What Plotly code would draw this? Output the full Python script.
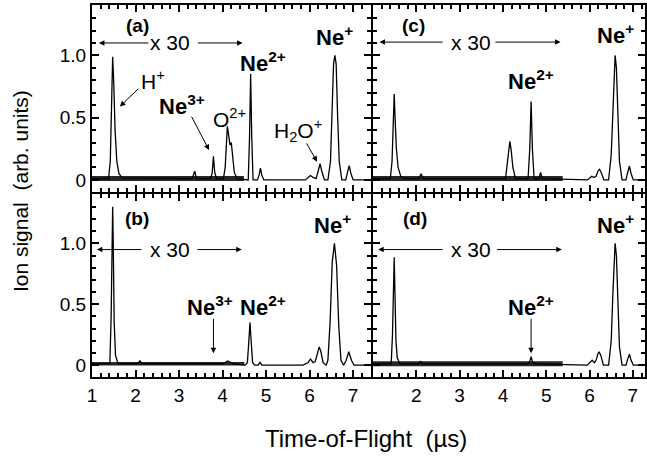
import plotly.graph_objects as go

# ---------------- data ----------------
# Time-of-flight (µs) and normalised ion signal, panel (a)
t_a = [1.00, 1.38, 1.42, 1.45, 1.475, 1.50, 1.53, 1.57, 1.62, 1.70, 3.30, 3.36, 3.40,
       3.72, 3.76, 3.79, 3.82, 3.86, 4.02, 4.06, 4.09, 4.11, 4.14, 4.17, 4.20, 4.23,
       4.27, 4.33, 4.55, 4.59, 4.62, 4.645, 4.67, 4.70, 4.80, 4.84, 4.87, 4.90, 4.95,
       5.90, 6.02, 6.08, 6.15, 6.20, 6.24, 6.28, 6.34, 6.42, 6.48, 6.52, 6.55, 6.58,
       6.61, 6.64, 6.68, 6.74, 6.83, 6.87, 6.91, 6.95, 7.00, 7.41]
s_a = [0.01, 0.01, 0.15, 0.60, 0.99, 0.78, 0.40, 0.15, 0.05, 0.015, 0.01, 0.07, 0.01,
       0.01, 0.05, 0.19, 0.06, 0.01, 0.01, 0.10, 0.33, 0.43, 0.36, 0.28, 0.30, 0.18,
       0.06, 0.01, 0.0, 0.0, 0.35, 0.85, 0.35, 0.0, 0.0, 0.04, 0.095, 0.04, 0.0,
       0.0, 0.035, 0.02, 0.01, 0.07, 0.13, 0.07, 0.0, 0.0, 0.15, 0.60, 0.93, 1.0,
       0.93, 0.55, 0.15, 0.0, 0.0, 0.06, 0.115, 0.05, 0.0, 0.0]

# panel (b)
t_b = [1.00, 1.41, 1.44, 1.46, 1.475, 1.49, 1.51, 1.54, 1.60, 2.05, 2.10, 2.15, 4.00,
       4.12, 4.25, 4.52, 4.57, 4.60, 4.63, 4.66, 4.69, 4.74, 4.82, 4.86, 4.90, 5.85,
       5.96, 6.02, 6.08, 6.13, 6.18, 6.22, 6.26, 6.31, 6.38, 6.42, 6.47, 6.52, 6.57,
       6.62, 6.67, 6.72, 6.78, 6.84, 6.90, 6.96, 7.02, 7.41]
s_b = [0.01, 0.01, 0.40, 1.05, 1.30, 0.95, 0.35, 0.08, 0.01, 0.01, 0.035, 0.01, 0.01,
       0.035, 0.01, 0.0, 0.02, 0.18, 0.35, 0.18, 0.02, 0.0, 0.0, 0.025, 0.0, 0.0,
       0.02, 0.05, 0.02, 0.03, 0.11, 0.15, 0.11, 0.02, 0.0, 0.04, 0.35, 0.85, 1.0,
       0.82, 0.32, 0.04, 0.0, 0.04, 0.11, 0.04, 0.0, 0.0]

# panel (c)
t_c = [1.00, 1.40, 1.44, 1.47, 1.49, 1.51, 1.54, 1.58, 1.64, 1.72, 2.06, 2.11, 2.16,
       4.06, 4.10, 4.13, 4.16, 4.19, 4.23, 4.29, 4.58, 4.62, 4.65, 4.68, 4.72, 4.83,
       4.87, 4.91, 5.95, 6.05, 6.10, 6.15, 6.20, 6.23, 6.27, 6.33, 6.44, 6.50, 6.54,
       6.57, 6.59, 6.62, 6.65, 6.69, 6.75, 6.84, 6.88, 6.92, 6.96, 7.01, 7.28]
s_c = [0.01, 0.01, 0.15, 0.45, 0.69, 0.50, 0.25, 0.10, 0.03, 0.01, 0.01, 0.05, 0.01,
       0.01, 0.12, 0.25, 0.31, 0.24, 0.10, 0.01, 0.01, 0.25, 0.63, 0.25, 0.01, 0.01,
       0.06, 0.01, 0.0, 0.03, 0.02, 0.03, 0.075, 0.085, 0.06, 0.0, 0.0, 0.2, 0.6,
       0.92, 1.0, 0.9, 0.55, 0.15, 0.0, 0.0, 0.06, 0.11, 0.05, 0.0, 0.0]

# panel (d)
t_d = [1.00, 1.42, 1.45, 1.47, 1.49, 1.51, 1.53, 1.56, 1.62, 2.05, 2.10, 2.15, 4.58,
       4.62, 4.65, 4.68, 4.72, 5.95, 6.06, 6.11, 6.15, 6.19, 6.22, 6.26, 6.32, 6.44,
       6.50, 6.54, 6.57, 6.59, 6.62, 6.65, 6.69, 6.75, 6.84, 6.88, 6.92, 6.96, 7.01,
       7.28]
s_d = [0.01, 0.01, 0.25, 0.65, 0.886, 0.55, 0.20, 0.06, 0.01, 0.01, 0.03, 0.01, 0.01,
       0.03, 0.07, 0.03, 0.01, 0.0, 0.04, 0.02, 0.04, 0.09, 0.11, 0.08, 0.0, 0.0,
       0.2, 0.6, 0.92, 1.0, 0.9, 0.55, 0.15, 0.0, 0.0, 0.05, 0.09, 0.04, 0.0, 0.0]

# extent of the noisy (x30 magnified) baseline region in each panel
noise_t_a = [1.0, 4.49]
noise_t_b = [1.0, 4.50]
noise_t_c = [1.0, 5.38]
noise_t_d = [1.0, 5.38]
noise_level = [0.012, 0.012]

# axis ticks
x_ticks_left = [1, 2, 3, 4, 5, 6, 7]
x_ticks_right = [2, 3, 4, 5, 6, 7]
y_ticks = [0, 0.5, 1.0]
y_tick_text = ["0", "0.5", "1.0"]

XR_LEFT = [1.0, 7.41]
XR_RIGHT = [1.0, 7.28]
YR = [-0.097, 1.405]

# ---------------- figure ----------------
FONT = "Liberation Sans, Arial, Helvetica, sans-serif"
fig = go.Figure()

panels = [
    ("x", "y", t_a, s_a, noise_t_a, 5),
    ("x2", "y2", t_c, s_c, noise_t_c, 5),
    ("x3", "y3", t_b, s_b, noise_t_b, 3.5),
    ("x4", "y4", t_d, s_d, noise_t_d, 5),
]
for xa, ya, t, s, nt, nw in panels:
    fig.add_trace(go.Scatter(x=nt, y=noise_level, mode="lines", xaxis=xa, yaxis=ya,
                             line=dict(color="#262626", width=nw), showlegend=False,
                             hoverinfo="skip"))
    fig.add_trace(go.Scatter(x=t, y=s, mode="lines", xaxis=xa, yaxis=ya,
                             line=dict(color="black", width=1.3), showlegend=False))

LW = 2
xl_dom = [0, 0.5045]
xr_dom = [0.5045 + LW / 553, 1]
yt_dom = [0.4973, 1]
yb_dom = [0, 0.4973 - LW / 372]


def xaxis(dom, rng, anchor, labels, vals):
    return dict(domain=dom, range=rng, anchor=anchor, showline=True, linecolor="black",
                linewidth=LW, mirror="allticks", ticks="inside", ticklen=7,
                tickwidth=2, tickcolor="black", tickmode="array", tickvals=vals,
                showticklabels=labels, showgrid=False, zeroline=False,
                tickfont=dict(family=FONT, size=19, color="black"),
                minor=dict(tick0=0, dtick=0.2, ticks="inside", ticklen=4,
                           tickwidth=1.5, tickcolor="black", showgrid=False))


def yaxis(dom, anchor, labels):
    return dict(domain=dom, range=YR, anchor=anchor, showline=True, linecolor="black",
                linewidth=LW, mirror="allticks", ticks="inside", ticklen=7,
                tickwidth=2, tickcolor="black", tickmode="array", tickvals=y_ticks,
                ticktext=y_tick_text, showticklabels=labels, showgrid=False,
                zeroline=False, tickfont=dict(family=FONT, size=19, color="black"),
                minor=dict(tick0=0, dtick=0.1, ticks="inside", ticklen=4,
                           tickwidth=1.5, tickcolor="black", showgrid=False))


fig.update_layout(
    template="none",
    xaxis=xaxis(xl_dom, XR_LEFT, "y", False, x_ticks_left),
    yaxis=yaxis(yt_dom, "x", True),
    xaxis2=xaxis(xr_dom, XR_RIGHT, "y2", False, x_ticks_right),
    yaxis2=yaxis(yt_dom, "x2", False),
    xaxis3=xaxis(xl_dom, XR_LEFT, "y3", True, x_ticks_left),
    yaxis3=yaxis(yb_dom, "x3", True),
    xaxis4=xaxis(xr_dom, XR_RIGHT, "y4", True, x_ticks_right),
    yaxis4=yaxis(yb_dom, "x4", False),
)

ann = []


def text(xr, yr, x, y, s, size=21, bold=False):
    if bold:
        s = "<b>" + s + "</b>"
    ann.append(dict(xref=xr, yref=yr, x=x, y=y, text=s, showarrow=False,
                    font=dict(family=FONT, size=size, color="black"),
                    xanchor="center", yanchor="middle"))


def arrow(xr, yr, x0, y0, x1, y1):
    # tail (x0, y0) -> head (x1, y1)
    ann.append(dict(xref=xr, yref=yr, axref=xr, ayref=yr, x=x1, y=y1, ax=x0, ay=y0,
                    text="", showarrow=True, arrowhead=2, arrowsize=1.1,
                    arrowwidth=1, arrowcolor="black", standoff=0, startstandoff=0))


B = 22  # bold ion labels
N = 21  # normal labels

# panel (a)
text("x", "y", 2.04, 1.24, "(a)", 19, True)
text("x", "y", 2.79, 1.10, "x 30", N)
arrow("x", "y", 2.33, 1.10, 1.16, 1.10)
arrow("x", "y", 3.40, 1.10, 4.46, 1.10)
text("x", "y", 6.58, 1.16, "Ne<sup>+</sup>", B, True)
text("x", "y", 4.93, 0.944, "Ne<sup>2+</sup>", B, True)
text("x", "y", 2.40, 0.80, "H<sup>+</sup>", N)
arrow("x", "y", 2.10, 0.744, 1.64, 0.59)
text("x", "y", 3.06, 0.60, "Ne<sup>3+</sup>", B, True)
arrow("x", "y", 3.27, 0.52, 3.69, 0.24)
text("x", "y", 4.17, 0.50, "O<sup>2+</sup>", N)
text("x", "y", 5.73, 0.40, "H<sub>2</sub>O<sup>+</sup>", N)
arrow("x", "y", 5.91, 0.306, 6.17, 0.146)

# panel (c)
text("x2", "y2", 1.94, 1.24, "(c)", 19, True)
text("x2", "y2", 3.26, 1.107, "x 30", N)
arrow("x2", "y2", 2.64, 1.107, 1.15, 1.107)
arrow("x2", "y2", 3.79, 1.107, 5.33, 1.107)
text("x2", "y2", 6.59, 1.176, "Ne<sup>+</sup>", B, True)
text("x2", "y2", 4.65, 0.80, "Ne<sup>2+</sup>", B, True)

# panel (b)
text("x3", "y3", 2.04, 1.206, "(b)", 19, True)
text("x3", "y3", 2.79, 0.949, "x 30", N)
arrow("x3", "y3", 2.17, 0.949, 1.11, 0.949)
arrow("x3", "y3", 3.39, 0.949, 4.44, 0.949)
text("x3", "y3", 6.53, 1.155, "Ne<sup>+</sup>", B, True)
text("x3", "y3", 3.71, 0.488, "Ne<sup>3+</sup>", B, True)
arrow("x3", "y3", 3.79, 0.393, 3.79, 0.098)
text("x3", "y3", 4.93, 0.488, "Ne<sup>2+</sup>", B, True)

# panel (d)
text("x4", "y4", 1.97, 1.206, "(d)", 19, True)
text("x4", "y4", 3.26, 0.949, "x 30", N)
arrow("x4", "y4", 2.64, 0.949, 1.12, 0.949)
arrow("x4", "y4", 3.83, 0.949, 5.36, 0.949)
text("x4", "y4", 6.59, 1.155, "Ne<sup>+</sup>", B, True)
text("x4", "y4", 4.65, 0.488, "Ne<sup>2+</sup>", B, True)
arrow("x4", "y4", 4.65, 0.393, 4.65, 0.098)

# axis titles
ann.append(dict(xref="paper", yref="paper", x=-0.13, y=0.5, text="Ion signal  (arb. units)",
                showarrow=False, textangle=-90, xanchor="center", yanchor="middle",
                font=dict(family=FONT, size=21, color="black")))
ann.append(dict(xref="paper", yref="paper", x=0.495, y=-0.164, text="Time-of-Flight  (µs)",
                showarrow=False, xanchor="center", yanchor="middle",
                font=dict(family=FONT, size=24, color="black")))

fig.update_layout(annotations=ann, width=647, height=459, autosize=False,
                  margin=dict(l=92, r=2, t=5, b=82), paper_bgcolor="white",
                  plot_bgcolor="white", showlegend=False)

# no mode bar, and no default page margin so the figure sits at the window origin
fig.write_html("out.html", config={"displayModeBar": False},
               post_script="document.body.style.margin='0';document.body.style.padding='0';")
